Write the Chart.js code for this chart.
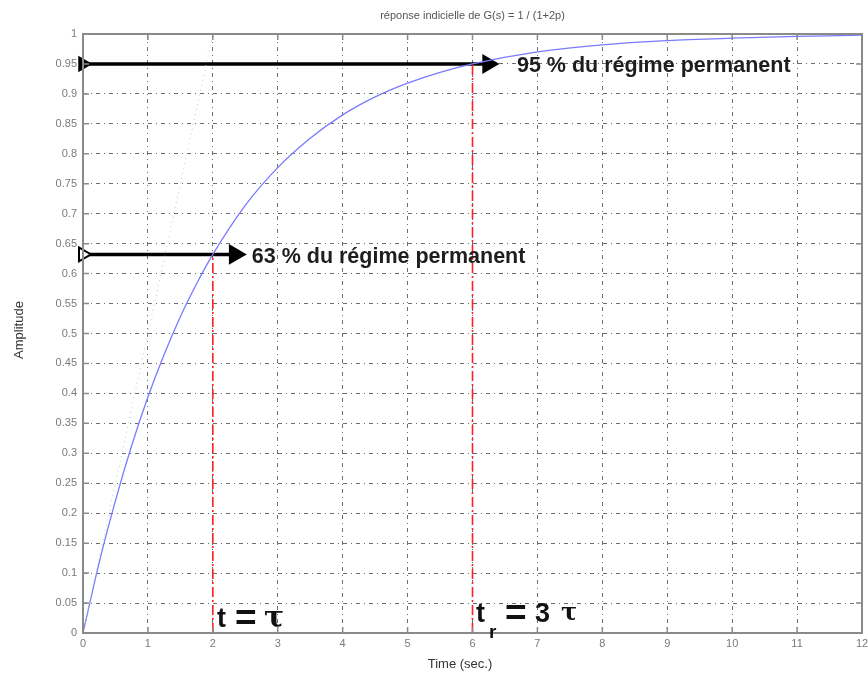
<!DOCTYPE html>
<html><head><meta charset="utf-8">
<script src="https://cdn.jsdelivr.net/npm/chart.js@4"></script>
<style>html,body{margin:0;padding:0;background:#fff}#wrap{width:868px;height:677px}</style>
</head><body><div id="wrap"><canvas id="c" width="868" height="677"></canvas></div>
<script>
// Data
const timeSec   = [0, 0.25, 0.5, 0.75, 1, 1.25, 1.5, 1.75, 2, 2.5, 3, 3.5, 4, 4.5, 5, 5.5, 6, 7, 8, 9, 10, 11, 12];
const amplitude = [0, 0.118, 0.221, 0.313, 0.394, 0.465, 0.528, 0.583, 0.632, 0.714, 0.777, 0.826, 0.865, 0.895, 0.918, 0.936, 0.950, 0.970, 0.982, 0.989, 0.993, 0.996, 0.998];
const tangentX  = [0, 2];
const tangentY  = [0, 1];
const markX     = [2, 6];          // t = tau, tr = 3 tau
const markY     = [0.632, 0.95];   // 63 %, 95 %
const arrowEndX = [2.34, 6.24];
const titleText = "réponse indicielle de G(s) = 1 / (1+2p)";
const xLabel = "Time (sec.)";
const yLabel = "Amplitude";
const labels95 = "95 % du régime permanent";
const labels63 = "63 % du régime permanent";

const FONT = "'Liberation Sans', Arial, sans-serif";
const SERIF = "'DejaVu Serif', serif";

const frame = {
  id: 'frame',
  afterDatasetsDraw(chart) {
    const {ctx, chartArea: a, scales: {x, y}} = chart;
    ctx.save();
    ctx.strokeStyle = '#8a8a8a';
    ctx.lineWidth = 2;
    ctx.strokeRect(a.left, a.top, a.right - a.left, a.bottom - a.top);
    ctx.lineWidth = 1.5;
    ctx.beginPath();
    x.ticks.forEach(t => {
      const px = x.getPixelForValue(t.value);
      ctx.moveTo(px, a.bottom); ctx.lineTo(px, a.bottom - 6);
      ctx.moveTo(px, a.top); ctx.lineTo(px, a.top + 6);
    });
    y.ticks.forEach(t => {
      const py = y.getPixelForValue(t.value);
      ctx.moveTo(a.left, py); ctx.lineTo(a.left + 6, py);
      ctx.moveTo(a.right, py); ctx.lineTo(a.right - 6, py);
    });
    ctx.stroke();

    // titles
    ctx.fillStyle = '#555';
    ctx.font = '11px ' + FONT;
    ctx.textAlign = 'center'; ctx.textBaseline = 'middle';
    ctx.fillText(titleText, (a.left + a.right) / 2, 16);
    ctx.fillStyle = '#333';
    ctx.font = '13px ' + FONT;
    ctx.fillText(xLabel, 460, 664);
    ctx.save();
    ctx.translate(19, 330); ctx.rotate(-Math.PI / 2);
    ctx.fillText(yLabel, 0, 0);
    ctx.restore();

    // annotations
    ctx.fillStyle = '#1e1e1e';
    ctx.textAlign = 'left';
    ctx.textBaseline = 'alphabetic';
    ctx.font = 'bold 21.5px ' + FONT;
    ctx.fillText(labels95, x.getPixelForValue(6.685), y.getPixelForValue(0.9366));
    ctx.fillText(labels63, x.getPixelForValue(2.6), y.getPixelForValue(0.6177));

    // t = tau
    const b1 = 627;
    ctx.fillStyle = '#111';
    ctx.font = 'bold 27px ' + FONT;
    ctx.fillText('t', 217, b1);
    ctx.font = 'bold 37px ' + FONT;
    ctx.fillText('=', 235, b1 + 3);
    ctx.font = 'bold 30px ' + SERIF;
    ctx.fillText('τ', 264, b1);

    // tr = 3 tau
    const b2 = 622;
    ctx.font = 'bold 27px ' + FONT;
    ctx.fillText('t', 476, b2);
    ctx.font = 'bold 19px ' + FONT;
    ctx.fillText('r', 489, b2 + 16);
    ctx.font = 'bold 37px ' + FONT;
    ctx.fillText('=', 505, b2 + 3);
    ctx.font = 'bold 27px ' + FONT;
    ctx.fillText('3', 535, b2);
    ctx.font = 'bold 24px ' + SERIF;
    ctx.fillText('τ', 561, b2 - 2);
    ctx.restore();
  }
};

new Chart(document.getElementById('c'), {
  type: 'scatter',
  data: {
    datasets: [
      { data: tangentX.map((v, i) => ({x: v, y: tangentY[i]})), showLine: true,
        borderColor: '#b8ccb8', borderWidth: 1, borderDash: [1, 4], pointRadius: 0 },
      { data: [{x: markX[0], y: 0}, {x: markX[0], y: markY[0]}], showLine: true,
        borderColor: '#ff2020', borderWidth: 1.6, borderDash: [10, 3, 2, 3], pointRadius: 0 },
      { data: [{x: markX[1], y: 0}, {x: markX[1], y: markY[1]}], showLine: true,
        borderColor: '#ff2020', borderWidth: 1.6, borderDash: [10, 3, 2, 3], pointRadius: 0 },
      { data: timeSec.map((t, i) => ({x: t, y: amplitude[i]})), showLine: true,
        borderColor: '#7a7aff', borderWidth: 1.3, pointRadius: 0, cubicInterpolationMode: 'monotone' },
      { data: [{x: 0, y: markY[1]}, {x: arrowEndX[1], y: markY[1]}], showLine: true,
        borderColor: '#000', backgroundColor: '#000', borderWidth: 3.5,
        pointStyle: 'triangle', pointRotation: 90, pointRadius: [8, 10], pointBorderWidth: 1.5, pointBorderColor: '#000' },
      { data: [{x: 0, y: markY[0]}, {x: arrowEndX[0], y: markY[0]}], showLine: true,
        borderColor: '#000', backgroundColor: ['#fff', '#000'], borderWidth: 3.5,
        pointStyle: 'triangle', pointRotation: 90, pointRadius: [8, 10], pointBorderWidth: 2, pointBorderColor: '#000' }
    ]
  },
  options: {
    responsive: false, animation: false,
    clip: false,
    layout: { autoPadding: false, padding: { left: 0, right: 6, top: 34, bottom: 0 } },
    plugins: { legend: { display: false }, tooltip: { enabled: false } },
    elements: { line: { tension: 0 } },
    scales: {
      x: {
        type: 'linear', min: 0, max: 12,
        ticks: { stepSize: 1, color: '#7a7a7a', font: { size: 11, family: FONT }, padding: 4, maxRotation: 0 },
        grid: { color: 'rgba(60,60,60,0.75)', lineWidth: 1, drawTicks: false },
        border: { display: false, dash: [4, 4, 1, 4] },
        afterFit(s) { s.height = 44; s.paddingLeft = 0; s.paddingRight = 0; }
      },
      y: {
        type: 'linear', min: 0, max: 1,
        ticks: { stepSize: 0.05, color: '#7a7a7a', font: { size: 11, family: FONT }, padding: 6,
                 callback: v => String(parseFloat(v.toFixed(2))) },
        grid: { color: 'rgba(60,60,60,0.75)', lineWidth: 1, drawTicks: false },
        border: { display: false, dash: [4, 4, 1, 4] },
        afterFit(s) { s.width = 83; s.paddingTop = 0; s.paddingBottom = 0; }
      }
    }
  },
  plugins: [frame]
});
</script>
</body></html>
